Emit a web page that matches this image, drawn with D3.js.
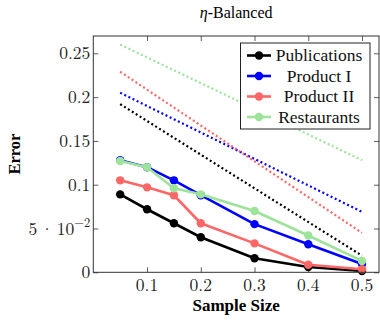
<!DOCTYPE html>
<html>
<head>
<meta charset="utf-8">
<script src="https://cdn.jsdelivr.net/npm/d3@7"></script>
<style>
  body { margin: 0; background: #fff; }
</style>
</head>
<body>
<div id="chart"></div>
<script>
(function() {
  var WIDTH = 380, HEIGHT = 320;
  var TEXT_FONT = 'Liberation Serif';
  var MATH_FONT = 'Latin Modern Roman';

  // data
  var sampleSizes = [0.05, 0.1, 0.15, 0.2, 0.3, 0.4, 0.5];
  var seriesNames = ['Publications', 'Product I', 'Product II', 'Restaurants'];
  var colors = ['#000000', '#0000ff', '#ff6666', '#9de39a'];
  var publications = [0.089, 0.072, 0.056, 0.040, 0.016, 0.006, 0.0015];
  var productI = [0.128, 0.120, 0.105, 0.088, 0.055, 0.032, 0.0095];
  var productII = [0.105, 0.097, 0.088, 0.056, 0.033, 0.0087, 0.0034];
  var restaurants = [0.127, 0.120, 0.096, 0.089, 0.070, 0.042, 0.013];
  // dotted reference lines (start / end)
  var refX = [0.05, 0.5];
  var refPublications = [0.192, 0.019];
  var refProductI = [0.205, 0.069];
  var refProductII = [0.229, 0.045];
  var refRestaurants = [0.260, 0.128];
  var xTicks = [0.1, 0.2, 0.3, 0.4, 0.5];
  var yTicks = [0, 0.05, 0.1, 0.15, 0.2, 0.25];
  var yTickLabels = ['0', '5\u00b710', '0.1', '0.15', '0.2', '0.25'];

  var solid = [publications, productI, productII, restaurants];
  var dotted = [refPublications, refProductI, refProductII, refRestaurants];

  var left = 93.3, right = 379, top = 36, bottom = 272.3;

  var x = d3.scaleLinear().domain([0, 0.5316]).range([left, right]);
  var y = d3.scaleLinear().domain([0, 0.2698]).range([bottom, top]);

  var svg = d3.select('#chart').append('svg')
    .attr('width', WIDTH)
    .attr('height', HEIGHT);

  var clip = svg.append('defs').append('clipPath').attr('id', 'plotclip');
  clip.append('rect')
    .attr('x', left).attr('y', top - 6)
    .attr('width', right - left + 6).attr('height', bottom - top + 12);

  // ticks (inward, all four sides)
  var axL = svg.append('g').attr('transform', 'translate(' + left + ',0)')
    .call(d3.axisLeft(y).tickValues(yTicks).tickSizeInner(-5).tickSizeOuter(0).tickFormat(''));
  var axR = svg.append('g').attr('transform', 'translate(' + right + ',0)')
    .call(d3.axisRight(y).tickValues(yTicks).tickSizeInner(-5).tickSizeOuter(0).tickFormat(''));
  var axB = svg.append('g').attr('transform', 'translate(0,' + bottom + ')')
    .call(d3.axisBottom(x).tickValues(xTicks).tickSizeInner(-5).tickSizeOuter(0).tickFormat(''));
  var axT = svg.append('g').attr('transform', 'translate(0,' + top + ')')
    .call(d3.axisTop(x).tickValues(xTicks).tickSizeInner(-5).tickSizeOuter(0).tickFormat(''));
  [axL, axR, axB, axT].forEach(function(g) {
    g.select('.domain').remove();
    g.selectAll('line').attr('stroke', '#333').attr('stroke-width', 0.8);
  });

  // tick labels (math font)
  yTicks.forEach(function(v, i) {
    var t = svg.append('text')
      .attr('font-family', MATH_FONT)
      .attr('font-size', 17.5)
      .attr('fill', '#222')
      .attr('x', left - 3)
      .attr('y', y(v) + 6)
      .attr('text-anchor', 'end');
    if (v === 0.05) {
      var parts = yTickLabels[i].split('\u00b7');
      t.append('tspan').text(parts[0]);
      t.append('tspan').attr('dx', 3).text('\u00b7');
      t.append('tspan').attr('dx', 3).text(parts[1]);
      t.append('tspan').attr('font-size', 12.5).attr('dy', -8).text('\u22122');
    } else {
      t.text(yTickLabels[i]);
    }
  });
  xTicks.forEach(function(v) {
    svg.append('text')
      .attr('font-family', MATH_FONT)
      .attr('font-size', 17.5)
      .attr('fill', '#222')
      .attr('x', x(v))
      .attr('y', 291)
      .attr('text-anchor', 'middle')
      .text(d3.format('.1f')(v));
  });

  // axis titles
  svg.append('text')
    .attr('font-family', TEXT_FONT)
    .attr('x', (left + right) / 2).attr('y', 311)
    .attr('text-anchor', 'middle')
    .attr('font-size', 17).attr('font-weight', 'bold')
    .text('Sample Size');
  svg.append('text')
    .attr('font-family', TEXT_FONT)
    .attr('transform', 'translate(20,' + (top + bottom) / 2 + ') rotate(-90)')
    .attr('text-anchor', 'middle')
    .attr('font-size', 16.5).attr('font-weight', 'bold')
    .text('Error');

  var title = svg.append('text')
    .attr('font-family', TEXT_FONT)
    .attr('x', (left + right) / 2).attr('y', 18.3)
    .attr('text-anchor', 'middle')
    .attr('font-size', 16);
  title.append('tspan').attr('font-style', 'italic').attr('font-family', MATH_FONT).text('\u03b7');
  title.append('tspan').text('-Balanced');

  var line = d3.line()
    .x(function(d) { return x(d[0]); })
    .y(function(d) { return y(d[1]); });

  var plot = svg.append('g').attr('clip-path', 'url(#plotclip)');

  // dotted reference lines
  dotted.forEach(function(vals, i) {
    plot.append('path')
      .attr('d', line(d3.zip(refX, vals)))
      .attr('fill', 'none')
      .attr('stroke', colors[i])
      .attr('stroke-width', 2.2)
      .attr('stroke-dasharray', '2 2.6');
  });

  // solid series with markers
  solid.forEach(function(vals, i) {
    var pts = d3.zip(sampleSizes, vals);
    plot.append('path')
      .attr('d', line(pts))
      .attr('fill', 'none')
      .attr('stroke', colors[i])
      .attr('stroke-width', 2.6)
      .attr('stroke-linejoin', 'round');
    plot.selectAll(null).data(pts).enter().append('circle')
      .attr('cx', function(d) { return x(d[0]); })
      .attr('cy', function(d) { return y(d[1]); })
      .attr('r', 4.2)
      .attr('fill', colors[i]);
  });

  // frame
  svg.append('rect')
    .attr('x', left).attr('y', top)
    .attr('width', right - left).attr('height', bottom - top)
    .attr('fill', 'none').attr('stroke', '#333').attr('stroke-width', 1);

  // legend
  var lg = svg.append('g');
  lg.append('rect')
    .attr('x', 240.5).attr('y', 43)
    .attr('width', 129.5).attr('height', 86)
    .attr('fill', '#fff').attr('stroke', '#222').attr('stroke-width', 1);
  seriesNames.forEach(function(name, i) {
    var yy = 55.5 + i * 20.5;
    lg.append('line')
      .attr('x1', 247).attr('x2', 271)
      .attr('y1', yy).attr('y2', yy)
      .attr('stroke', colors[i]).attr('stroke-width', 2.6);
    lg.append('circle')
      .attr('cx', 259).attr('cy', yy).attr('r', 4.2)
      .attr('fill', colors[i]);
    lg.append('text')
      .attr('font-family', TEXT_FONT)
      .attr('x', 319).attr('y', yy + 5.5)
      .attr('text-anchor', 'middle')
      .attr('font-size', 17.5)
      .attr('fill', '#111')
      .text(name);
  });
})();
</script>
</body>
</html>
